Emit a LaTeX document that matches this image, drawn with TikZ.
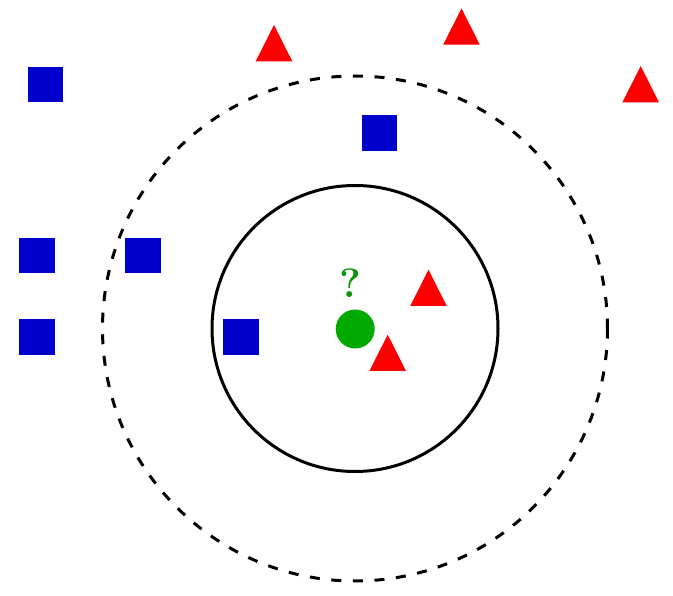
\documentclass[tikz,border=0pt]{standalone}
\tikzset{
  sq/.style={rectangle, fill={rgb,255:red,0;green,0;blue,204}, draw=none, minimum size=35.4pt, inner sep=0pt, outer sep=0pt},
  tri/.style={fill={rgb,255:red,255;green,0;blue,0}},
  query/.style={circle, fill={rgb,255:red,0;green,170;blue,0}, draw=none, minimum size=39pt, inner sep=0pt},
  qmark/.style={text={rgb,255:red,10;green,150;blue,10}, font=\fontsize{41}{41}\selectfont\bfseries, inner sep=0pt},
  solidring/.style={draw=black, line width=3pt},
  dashring/.style={draw=black, line width=3pt, dash pattern=on 10pt off 11.6pt},
}
\begin{document}
\begin{tikzpicture}[x=1pt,y=-1pt]
\useasboundingbox (0,0) rectangle (673,596);
% circles
\coordinate (c) at (355,328.5);
\draw[dashring] (c) circle[radius=252.5];
\draw[solidring] (c) circle[radius=143];
% squares
\node[sq] (s1) at (45.3,84.3) {};
\node[sq] (s2) at (379.5,133.2) {};
\node[sq] (s3) at (37,255.7) {};
\node[sq] (s4) at (143,255.7) {};
\node[sq] (s5) at (37,337) {};
\node[sq] (s6) at (241,337) {};
% triangles (base centre coordinates)
\coordinate (t1) at (274,61.3);
\coordinate (t2) at (461.5,44.7);
\coordinate (t3) at (640.7,102.3);
\coordinate (t4) at (428.5,306);
\coordinate (t5) at (387.7,371);
\foreach \t in {t1,t2,t3,t4,t5}{
  \fill[tri] (\t) ++(-18.3,0) -- ++(36.6,0) -- ++(-18.3,-36.3) -- cycle;
}
% query point
\node[query] (q) at (355.2,329) {};
\node[qmark] (qm) at (350,283) {?};
\end{tikzpicture}
\end{document}
